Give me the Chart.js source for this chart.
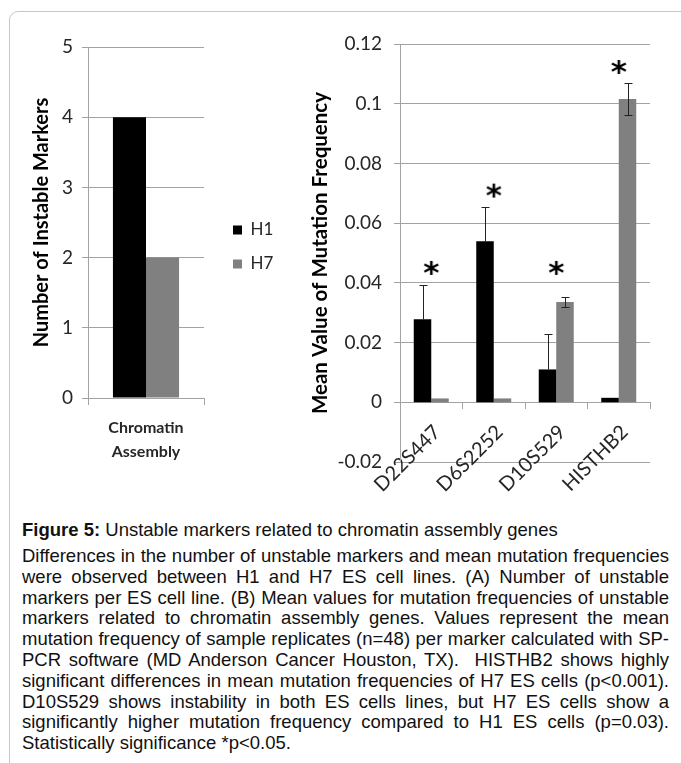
<!DOCTYPE html>
<html lang="en">

<head>
  <meta charset="UTF-8" />
  <title>Figure 5 - Unstable markers</title>
  <script src="https://cdn.jsdelivr.net/npm/chart.js"></script>
  <style>
    body { margin: 0; background: #fff; width: 681px; height: 763px; overflow: hidden; position: relative; }
    .frame { position: absolute; left: 9px; top: 11px; width: 720px; height: 800px; border: 1px solid #c6c6c6; border-radius: 9px; }
    #countChart { position: absolute; left: 0; top: 0; }
    #freqChart { position: absolute; left: 300px; top: 0; }
    .caption { position: absolute; left: 22px; top: 519px; width: 647px; font-family: "Liberation Sans", Arial, sans-serif; font-size: 18.5px; color: #111; }
    .caption .title { line-height: 22px; margin-bottom: 5px; }
    .caption .line { line-height: 20.8px; text-align: justify; text-align-last: justify; }
    .caption .line.last { text-align-last: left; }
  </style>
</head>

<body>
  <div class="frame"></div>
  <canvas id="countChart" width="276" height="500"></canvas>
  <canvas id="freqChart" width="381" height="500"></canvas>

  <div class="caption">
    <div class="title"><b>Figure 5:</b> Unstable markers related to chromatin assembly genes</div>
    <div class="line">Differences in the number of unstable markers and mean mutation frequencies</div>
    <div class="line">were observed between H1 and H7 ES cell lines. (A) Number of unstable</div>
    <div class="line">markers per ES cell line. (B) Mean values for mutation frequencies of unstable</div>
    <div class="line">markers related to chromatin assembly genes. Values represent the mean</div>
    <div class="line">mutation frequency of sample replicates (n=48) per marker calculated with SP-</div>
    <div class="line">PCR software (MD Anderson Cancer Houston, TX).&nbsp; HISTHB2 shows highly</div>
    <div class="line">significant differences in mean mutation frequencies of H7 ES cells (p&lt;0.001).</div>
    <div class="line">D10S529 shows instability in both ES cells lines, but H7 ES cells show a</div>
    <div class="line">significantly higher mutation frequency compared to H1 ES cells (p=0.03).</div>
    <div class="line last">Statistically significance *p&lt;0.05.</div>
  </div>

  <script>
    // (A) number of instable markers per cell line
    const groups = [['Chromatin', 'Assembly']];
    const h1Count = [4];
    const h7Count = [2];
    const countTicks = ['0', '1', '2', '3', '4', '5'];

    // (B) mean mutation frequency per marker
    const markers = ['D22S447', 'D6S2252', 'D10S529', 'HISTHB2'];
    const h1Freq = [0.0278, 0.0539, 0.011, 0.0015];
    const h7Freq = [0.0013, 0.0013, 0.0336, 0.1016];
    // error bar lengths above / below each bar
    const h1ErrUp = [0.0114, 0.0114, 0.0118, 0];
    const h1ErrDown = [0, 0, 0, 0];
    const h7ErrUp = [0, 0, 0.0017, 0.0054];
    const h7ErrDown = [0, 0, 0.0017, 0.0054];
    const starY = [0.045, 0.0709, 0.045, 0.1123];
    const freqTicks = ['-0.02', '0', '0.02', '0.04', '0.06', '0.08', '0.1', '0.12'];

    const gridGray = '#a3a3a3';
    const tickColor = '#262626';

    // asterisk used as the point image for the significance marks
    function makeStar() {
      const c = document.createElement('canvas');
      c.width = 24; c.height = 24;
      const g = c.getContext('2d');
      g.font = 'bold 31px "DejaVu Sans"';
      g.fillStyle = '#000';
      g.textAlign = 'center';
      const m = g.measureText('*');
      const base = 12 + (m.actualBoundingBoxAscent - m.actualBoundingBoxDescent) / 2;
      g.fillText('*', 12, base);
      return c;
    }

    // simple error bars drawn from the bar elements
    const errorBars = {
      id: 'errorBars',
      afterDatasetsDraw(chart, args, opts) {
        if (!opts.up) return;
        const ctx = chart.ctx;
        const y = chart.scales.y;
        opts.up.forEach((ups, i) => {
          const downs = opts.down[i];
          const meta = chart.getDatasetMeta(i);
          const vals = chart.data.datasets[i].data;
          meta.data.forEach((bar, j) => {
            if (!ups[j] && !downs[j]) return;
            const x = Math.round(bar.x) + 0.5;
            const top = Math.round(y.getPixelForValue(vals[j] + ups[j])) + 0.5;
            const bot = Math.round(y.getPixelForValue(vals[j] - downs[j])) + 0.5;
            ctx.save();
            ctx.strokeStyle = '#222';
            ctx.lineWidth = 1;
            ctx.beginPath();
            ctx.moveTo(x, top); ctx.lineTo(x, bot);
            if (ups[j]) { ctx.moveTo(x - 4, top); ctx.lineTo(x + 4, top); }
            if (downs[j]) { ctx.moveTo(x - 4, bot); ctx.lineTo(x + 4, bot); }
            ctx.stroke();
            ctx.restore();
          });
        });
      }
    };

    new Chart(document.getElementById('countChart'), {
      type: 'bar',
      data: {
        labels: groups,
        datasets: [
          { label: 'H1', data: h1Count, backgroundColor: '#000000' },
          { label: 'H7', data: h7Count, backgroundColor: '#808080' }
        ]
      },
      options: {
        responsive: false,
        animation: false,
        categoryPercentage: 0.57,
        barPercentage: 1,
        layout: { padding: { top: 47, bottom: 32, left: 0, right: 0 } },
        plugins: {
          tooltip: { enabled: false },
          legend: {
            position: 'right',
            fullSize: false,
            maxWidth: 60,
            // empty title only pushes the two items down to mid height
            title: { display: true, text: ' ', font: { size: 10 }, padding: { top: 37, bottom: 0 } },
            labels: { boxWidth: 9, boxHeight: 9, padding: 17, color: tickColor, font: { family: 'Lato', size: 17 } }
          }
        },
        scales: {
          x: {
            grid: { drawOnChartArea: false, offset: true, tickLength: 7, color: gridGray },
            border: { color: gridGray },
            ticks: { color: tickColor, padding: 10, font: { family: 'Lato', size: 16, weight: 'bold', lineHeight: 1.55 } },
            afterFit: s => { s.height = 70; }
          },
          y: {
            min: 0,
            max: 5,
            ticks: {
              stepSize: 1,
              padding: 9,
              color: tickColor,
              font: { family: 'Lato', size: 19 },
              callback: (v, i) => countTicks[i]
            },
            grid: { color: gridGray, tickLength: 6 },
            border: { color: gridGray },
            title: {
              display: true,
              text: 'Number of Instable Markers',
              color: '#000',
              font: { family: 'Lato', size: 20, weight: 'bold' },
              padding: { top: 30, bottom: 0 }
            },
            afterFit: s => { s.width = 88; }
          },
          // empty axis that only keeps a gap between plot and legend
          gap: {
            type: 'linear',
            position: 'right',
            grid: { display: false },
            border: { display: false },
            ticks: { display: false },
            afterFit: s => { s.width = 12; }
          }
        }
      }
    });

    new Chart(document.getElementById('freqChart'), {
      type: 'bar',
      data: {
        labels: markers,
        datasets: [
          { label: 'H1', data: h1Freq, backgroundColor: '#000000' },
          { label: 'H7', data: h7Freq, backgroundColor: '#808080' },
          {
            type: 'line', label: '*', data: starY, showLine: false,
            pointStyle: makeStar(), pointRadius: 12, borderWidth: 0
          }
        ]
      },
      options: {
        responsive: false,
        animation: false,
        categoryPercentage: 0.56,
        barPercentage: 1,
        layout: { padding: { top: 44, bottom: 38, left: 0, right: 31 } },
        plugins: {
          tooltip: { enabled: false },
          legend: { display: false },
          errorBars: { up: [h1ErrUp, h7ErrUp], down: [h1ErrDown, h7ErrDown] }
        },
        scales: {
          x: {
            position: { y: 0 },
            grid: { drawOnChartArea: false, offset: true, tickLength: 6, color: gridGray },
            border: { color: gridGray },
            ticks: {
              color: tickColor,
              autoSkip: false,
              minRotation: 45,
              maxRotation: 45,
              padding: 12,
              labelOffset: 6,
              font: { family: 'Lato', size: 20 }
            }
          },
          y: {
            min: -0.02,
            max: 0.12,
            ticks: {
              stepSize: 0.02,
              padding: 12,
              color: tickColor,
              font: { family: 'Lato', size: 19 },
              callback: (v, i) => freqTicks[i]
            },
            grid: { color: gridGray, tickLength: 6 },
            border: { color: gridGray },
            title: {
              display: true,
              text: 'Mean Value of Mutation Frequency',
              color: '#000',
              font: { family: 'Lato', size: 20.5, weight: 'bold' },
              padding: { top: 8, bottom: 0 }
            },
            afterFit: s => { s.width = 100; }
          }
        }
      },
      plugins: [errorBars]
    });
  </script>
</body>

</html>
